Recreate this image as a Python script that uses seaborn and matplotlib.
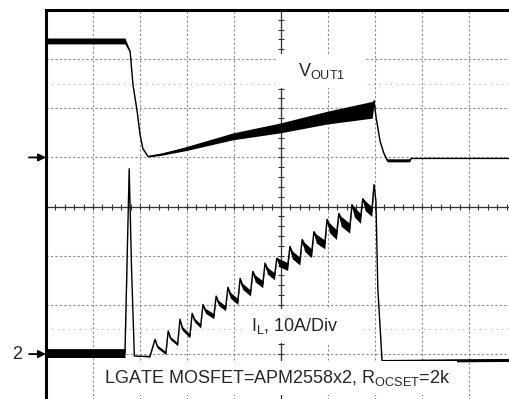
"""Oscilloscope capture: V_OUT1 and inductor current during over-current shutdown."""

import matplotlib

matplotlib.use("Agg")
import matplotlib.pyplot as plt
import numpy as np
import pandas as pd
import seaborn as sns

# time axis in screen divisions (10 div across, image cropped at ~9.85)
VOUT_T = [0.00, 1.68, 1.79, 1.85, 1.94, 2.00, 2.06, 2.17, 2.43, 2.98, 3.98,
          4.98, 5.98, 6.94, 6.98, 7.02, 7.11, 7.19, 7.26, 7.74, 7.77, 9.90]
# V_OUT1 in divisions above channel-1 ground marker
VOUT_DIV = [2.37, 2.37, 2.15, 1.48, 0.93, 0.47, 0.18, 0.02, 0.06, 0.18, 0.43,
            0.60, 0.81, 0.97, 1.14, 0.83, 0.32, 0.08, -0.06, -0.06, -0.02, -0.02]
VOUT_NOISE = [0.06, 0.06, 0.02, 0.01, 0.01, 0.01, 0.01, 0.01, 0.02, 0.04, 0.07,
              0.10, 0.13, 0.17, 0.05, 0.01, 0.01, 0.01, 0.03, 0.03, 0.0, 0.0]

# inductor current, amps (10 A/div): flat, spike, staircase ramp, turn-off
IL_T = [0.00, 1.68, 1.77, 1.82, 1.88, 2.21,
        2.32, 2.37, 2.55, 2.60, 2.65, 2.80, 2.85, 2.90, 3.06,
        3.11, 3.16, 3.29, 3.34, 3.39, 3.57, 3.62, 3.67, 3.82,
        3.87, 3.92, 4.08, 4.13, 4.18, 4.35, 4.40, 4.45, 4.61,
        4.66, 4.71, 4.86, 4.91, 4.96, 5.14, 5.19, 5.24, 5.40,
        5.45, 5.50, 5.65, 5.70, 5.75, 5.93, 5.98, 6.03, 6.18,
        6.23, 6.28, 6.46, 6.51, 6.56, 6.69, 6.74, 6.79, 6.93,
        6.98, 7.02, 7.06, 7.15, 9.90]
IL_AMPS = [0.2, 0.2, 37.7, 17.4, -0.4, -0.5,
           3.0, 1.5, 0.2, 4.7, 3.2, 2.0, 7.1, 5.2, 3.7,
           8.3, 6.9, 5.7, 10.1, 8.8, 7.7, 11.8, 10.4, 9.3,
           13.6, 12.0, 10.7, 15.4, 13.8, 12.4, 16.8, 15.4, 14.2,
           18.5, 17.0, 15.8, 19.5, 18.6, 17.8, 21.9, 20.2, 18.9,
           23.3, 21.8, 20.5, 24.9, 23.5, 22.3, 27.4, 25.7, 24.3,
           28.6, 27.0, 25.6, 30.4, 28.9, 27.6, 31.6, 30.2, 29.0,
           34.5, 31.0, 13.4, -1.4, -1.2]
IL_NOISE = [0.9, 0.9, 0.0, 0.0, 0.0, 0.1,
            0.1, 0.3, 0.3, 0.1, 0.3, 0.3, 0.1, 0.4, 0.4,
            0.1, 0.4, 0.4, 0.1, 0.5, 0.5, 0.1, 0.5, 0.5,
            0.2, 0.6, 0.6, 0.2, 0.6, 0.6, 0.2, 0.7, 0.7,
            0.2, 0.7, 0.7, 0.2, 0.8, 0.8, 0.2, 0.8, 0.8,
            0.2, 0.9, 0.9, 0.2, 0.9, 0.9, 0.2, 1.0, 1.0,
            0.2, 1.0, 1.0, 0.2, 1.0, 1.0, 0.2, 1.0, 1.0,
            0.2, 0.1, 0.0, 0.3, 0.3]

CH1_ZERO = 1.0     # divisions
CH2_ZERO = -3.0    # divisions
AMPS_PER_DIV = 10.0

sns.set_theme(style="white")
plt.rcParams["font.family"] = ["Liberation Sans", "DejaVu Sans"]
plt.rcParams["mathtext.fontset"] = "custom"
plt.rcParams["mathtext.rm"] = "Liberation Sans"

vout = pd.DataFrame({"t": VOUT_T, "y": np.array(VOUT_DIV) + CH1_ZERO,
                     "w": VOUT_NOISE})
il = pd.DataFrame({"t": IL_T, "y": np.array(IL_AMPS) / AMPS_PER_DIV + CH2_ZERO,
                   "w": np.array(IL_NOISE) / AMPS_PER_DIV})

fig = plt.figure(figsize=(5.09, 3.99), dpi=100)
ax = fig.add_axes([46 / 509, -4.2 / 399, 470 / 509, 393.2 / 399])

# graticule
ax.set_xticks(range(11))
ax.set_yticks(range(-4, 5))
ax.grid(True, color="#8a8a8a", lw=0.8, ls=(0, (2, 2)))
ax.tick_params(length=0, labelbottom=False, labelleft=False)
for side in ["top", "left"]:
    ax.spines[side].set_linewidth(2.2)
    ax.spines[side].set_color("black")
for side in ["right", "bottom"]:
    ax.spines[side].set_visible(False)

for lvl in [2.5, -2.5]:
    ax.axhline(lvl, color="#b0b0b0", lw=0.8, ls=(0, (1, 4)), zorder=1)

# centre axes with minor ticks
ax.axvline(5, color="#333333", lw=0.9, zorder=2)
ax.axhline(0, color="#333333", lw=0.9, zorder=2)
minor = np.arange(0, 10.01, 0.2)
ax.vlines(minor, -0.06, 0.06, color="#333333", lw=0.8, zorder=2)
minor_y = np.arange(-4, 4.01, 0.2)
ax.hlines(minor_y, 4.94, 5.06, color="#333333", lw=0.8, zorder=2)

# traces
for df in [vout, il]:
    ax.fill_between(df["t"], df["y"] - df["w"], df["y"] + df["w"],
                    color="black", lw=0, zorder=4)
    sns.lineplot(data=df, x="t", y="y", sort=False, estimator=None,
                 color="black", lw=1.0, ax=ax, zorder=5)
ax.set_xlabel("")
ax.set_ylabel("")
ax.set_xlim(0, 10)
ax.set_ylim(-4, 4)

box = dict(facecolor="white", edgecolor="none", boxstyle="square,pad=0.4")
ax.text(5.83, 2.76, "   V$_{\\mathrm{OUT1}}$   ", fontsize=13, ha="center",
        va="center", bbox=box, zorder=6)
ax.text(5.45, -2.43, "I$_{\\mathrm{L}}$, 10A/Div    ", fontsize=13, ha="center",
        va="center", bbox=box, zorder=6)
ax.text(4.91, -3.49, "LGATE MOSFET=APM2558x2, R$_{\\mathrm{OCSET}}$=2k",
        fontsize=13, ha="center", va="center", bbox=box, zorder=6)

# ground markers
arrow = dict(arrowstyle="-|>", color="black", lw=1.3, mutation_scale=11,
             shrinkA=0, shrinkB=0)
for lvl in [CH1_ZERO, CH2_ZERO]:
    ax.annotate("", xy=(0, lvl), xytext=(-0.36, lvl), arrowprops=arrow,
                annotation_clip=False)
ax.text(-0.62, CH2_ZERO, "2", fontsize=13, ha="center", va="center",
        clip_on=False)

fig.savefig("out.png", dpi=100)
